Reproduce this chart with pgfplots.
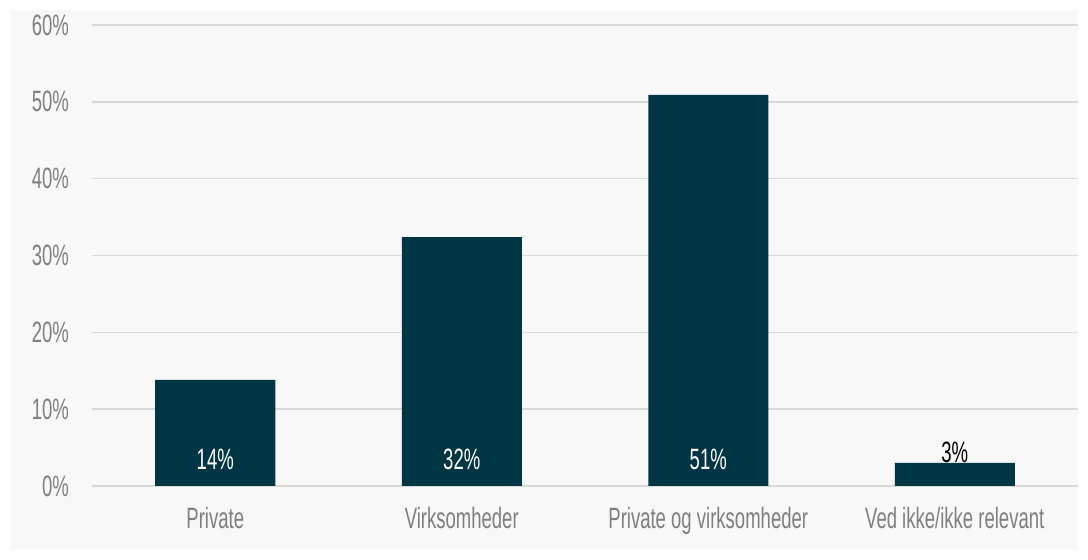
\documentclass[border=0pt]{standalone}
\usepackage{fontspec}
\setmainfont[FakeStretch=0.63]{Liberation Sans}
\usepackage{pgfplots}
\pgfplotsset{compat=1.18}
\definecolor{barcol}{HTML}{003543}
\definecolor{txtgray}{HTML}{7F7F7F}
\definecolor{gridgray}{HTML}{D9D9D9}
\definecolor{bgcol}{HTML}{F8F8F8}
\begin{document}
\begin{tikzpicture}
\fill[white] (-46pt,-37pt) rectangle (498pt,243pt);
\fill[bgcol] (-41pt,-32pt) rectangle (493pt,238pt);
\begin{axis}[
    at={(0,0)}, anchor=south west,
    scale only axis,
    width=493pt, height=230.5pt,
    xmin=-0.5, xmax=3.5,
    ymin=0, ymax=60,
    axis line style={draw=none},
    ytick={0,10,...,60},
    yticklabel={\pgfmathprintnumber{\tick}\%},
    xtick={0,1,2,3},
    xticklabels={Private,Virksomheder,Private og virksomheder,Ved ikke/ikke relevant},
    tick style={draw=none},
    ymajorgrids,
    grid style={gridgray, line width=0.8pt},
    /pgf/number format/assume math mode=true,
    ticklabel style={font=\fontsize{14.7}{16}\selectfont, text=txtgray},
    yticklabel style={xshift=-8pt},
    xticklabel style={yshift=-7pt},
    clip=false,
]
\addplot[ybar, bar width=60pt, bar shift=0pt, fill=barcol, draw=none]
    coordinates {(0,13.8) (1,32.4) (2,50.9) (3,3.0)};
\addplot[only marks, mark=none, nodes near coords, point meta=explicit symbolic,
    every node near coord/.style={anchor=center, font=\fontsize{14.7}{16}\selectfont}]
    coordinates {(0,3.5)[\textcolor{white}{14\%}] (1,3.5)[\textcolor{white}{32\%}]
                 (2,3.5)[\textcolor{white}{51\%}] (3,4.4)[\textcolor{black}{3\%}]};
\end{axis}
\end{tikzpicture}
\end{document}
